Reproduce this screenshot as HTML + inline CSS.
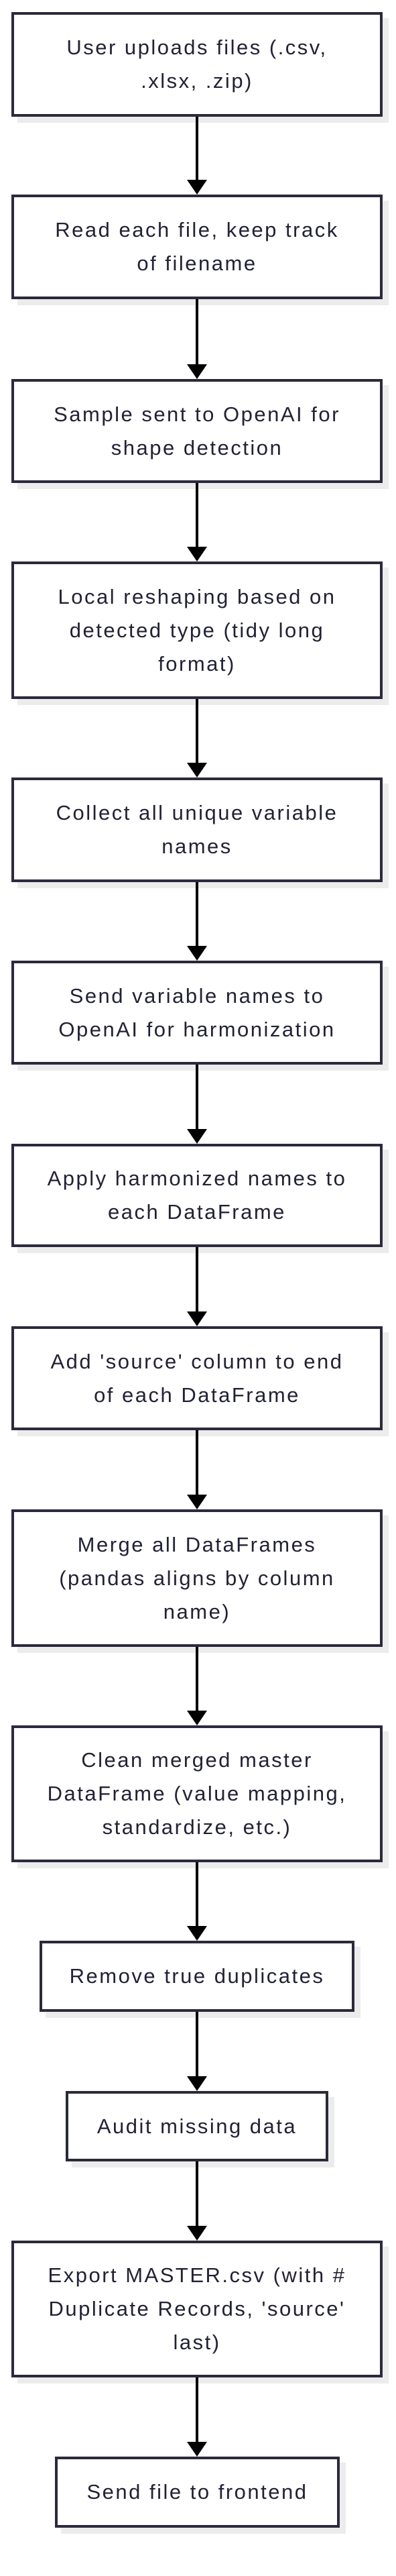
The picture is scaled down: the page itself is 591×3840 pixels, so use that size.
<!DOCTYPE html>
<html><head><meta charset="utf-8"><style>
body{margin:0;width:591px;height:3840px;background:#fff;position:relative;overflow:hidden;font-family:"Liberation Sans",sans-serif;}
.b{position:absolute;box-sizing:border-box;border:4px solid #2a2a3c;background:#fff;box-shadow:9px 9px 0 #ececec;display:flex;align-items:center;justify-content:center;text-align:center;color:#222236;font-size:31px;line-height:50px;letter-spacing:2.5px;padding:0 6px;white-space:nowrap;}
.l{position:absolute;left:292px;width:4px;background:#000;}
.h{position:absolute;left:279px;width:0;height:0;border-left:15px solid transparent;border-right:15px solid transparent;border-top:22px solid #000;}
</style></head><body>
<div class="b" style="left:17px;top:18px;width:554px;height:156px">User uploads files (.csv,<br>.xlsx, .zip)</div>
<div class="b" style="left:17px;top:290px;width:554px;height:156px">Read each file, keep track<br>of filename</div>
<div class="b" style="left:17px;top:565px;width:554px;height:155px">Sample sent to OpenAI for<br>shape detection</div>
<div class="b" style="left:17px;top:837px;width:554px;height:205px">Local reshaping based on<br>detected type (tidy long<br>format)</div>
<div class="b" style="left:17px;top:1159px;width:554px;height:156px">Collect all unique variable<br>names</div>
<div class="b" style="left:17px;top:1432px;width:554px;height:155px">Send variable names to<br>OpenAI for harmonization</div>
<div class="b" style="left:17px;top:1705px;width:554px;height:154px">Apply harmonized names to<br>each DataFrame</div>
<div class="b" style="left:17px;top:1977px;width:554px;height:155px">Add 'source' column to end<br>of each DataFrame</div>
<div class="b" style="left:17px;top:2250px;width:554px;height:205px">Merge all DataFrames<br>(pandas aligns by column<br>name)</div>
<div class="b" style="left:17px;top:2572px;width:554px;height:204px">Clean merged master<br>DataFrame (value mapping,<br>standardize, etc.)</div>
<div class="b" style="left:59px;top:2893px;width:470px;height:106px">Remove true duplicates</div>
<div class="b" style="left:98px;top:3117px;width:392px;height:105px">Audit missing data</div>
<div class="b" style="left:17px;top:3340px;width:554px;height:204px">Export MASTER.csv (with #<br>Duplicate Records, 'source'<br>last)</div>
<div class="b" style="left:82px;top:3662px;width:425px;height:106px">Send file to frontend</div>

<div class="l" style="top:174px;height:96px"></div><div class="h" style="top:268px"></div>
<div class="l" style="top:446px;height:99px"></div><div class="h" style="top:543px"></div>
<div class="l" style="top:720px;height:97px"></div><div class="h" style="top:815px"></div>
<div class="l" style="top:1042px;height:97px"></div><div class="h" style="top:1137px"></div>
<div class="l" style="top:1315px;height:97px"></div><div class="h" style="top:1410px"></div>
<div class="l" style="top:1587px;height:98px"></div><div class="h" style="top:1683px"></div>
<div class="l" style="top:1859px;height:98px"></div><div class="h" style="top:1955px"></div>
<div class="l" style="top:2132px;height:98px"></div><div class="h" style="top:2228px"></div>
<div class="l" style="top:2455px;height:97px"></div><div class="h" style="top:2550px"></div>
<div class="l" style="top:2776px;height:97px"></div><div class="h" style="top:2871px"></div>
<div class="l" style="top:2999px;height:98px"></div><div class="h" style="top:3095px"></div>
<div class="l" style="top:3222px;height:98px"></div><div class="h" style="top:3318px"></div>
<div class="l" style="top:3544px;height:98px"></div><div class="h" style="top:3640px"></div>
</body></html>
